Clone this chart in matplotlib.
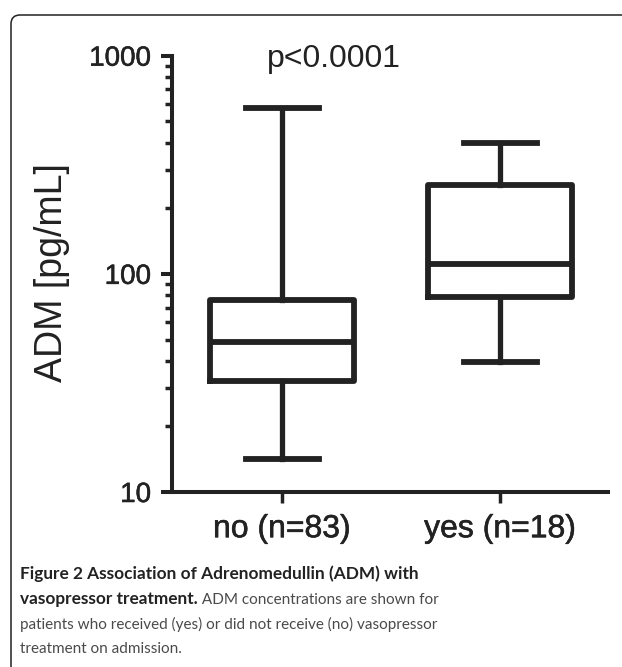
import matplotlib
matplotlib.use('Agg')
import matplotlib.pyplot as plt
import matplotlib.patheffects as pe
from matplotlib.patches import FancyBboxPatch
from matplotlib.ticker import LogLocator, NullFormatter, FixedLocator, FixedFormatter

# box plot summary values (pg/mL)
groups = ['no (n=83)', 'yes (n=18)']
whisker_low = [14.2, 39.4]
q1 = [32.4, 78.7]
median = [48.8, 110.8]
q3 = [76, 256]
whisker_high = [573, 398]
yticks = [10, 100, 1000]
ptext = 'p<0.0001'

ink = '#222222'
W, H = 622, 667
fig = plt.figure(figsize=(W / 100, H / 100), dpi=100)

# rounded frame, open to the right and bottom
frame = FancyBboxPatch((0.11, -1.0), 8.0, 7.52, boxstyle='round,pad=0,rounding_size=0.09',
                       transform=fig.dpi_scale_trans, fill=False, ec=ink, lw=1.1)
fig.patches.append(frame)

ax = fig.add_axes([172 / W, 175 / H, 436 / W, 436.3 / H])

stats = []
for i in range(len(groups)):
    stats.append(dict(whislo=whisker_low[i], q1=q1[i], med=median[i], q3=q3[i],
                      whishi=whisker_high[i], fliers=[], label=groups[i]))

lw = 4.2
ax.bxp(stats, positions=[1, 2], widths=0.66, capwidths=0.335, showfliers=False,
       boxprops=dict(color=ink, lw=lw), medianprops=dict(color=ink, lw=lw),
       whiskerprops=dict(color=ink, lw=3.8), capprops=dict(color=ink, lw=lw))

ax.set_yscale('log')
ax.set_ylim(10, 1000)
ax.set_xlim(0.495, 2.495)
ax.yaxis.set_major_locator(FixedLocator(yticks))
ax.yaxis.set_major_formatter(FixedFormatter([str(v) for v in yticks]))
ax.yaxis.set_minor_locator(LogLocator(base=10, subs=range(2, 10)))
ax.yaxis.set_minor_formatter(NullFormatter())
ax.set_xticks([1, 2])
ax.set_xticklabels(groups)

for s in ['top', 'right']:
    ax.spines[s].set_visible(False)
for s in ['left', 'bottom']:
    ax.spines[s].set_linewidth(2.9)
    ax.spines[s].set_color(ink)

font = 'Liberation Sans'
thick = [pe.withStroke(linewidth=0.4, foreground=ink)]
ax.tick_params(axis='y', which='major', length=8, width=2.9, color=ink, pad=7,
               labelsize=20, labelcolor=ink)
ax.tick_params(axis='y', which='minor', length=5, width=2.5, color=ink)
ax.tick_params(axis='x', length=8, width=2.5, color=ink, pad=8, labelsize=23, labelcolor=ink)
for lab in ax.get_xticklabels() + ax.get_yticklabels():
    lab.set_fontfamily(font)
    lab.set_path_effects(thick)

fig.text(51.5 / W, 1 - 273 / H, 'ADM [pg/mL]', rotation=90, ha='center', va='center',
         fontsize=27, family=font, color=ink)
fig.text(334 / W, 1 - 67 / H, ptext, ha='center', va='baseline', fontsize=23,
         family=font, color=ink)

# caption with bold lead-in
cap_font = 'Lato'
x0 = 20 / W
grey = '#4a4a4a'
fig.text(x0, 1 - 579 / H, 'Figure 2 Association of Adrenomedullin (ADM) with',
         fontsize=12.4, family=cap_font, weight='bold', color=ink, va='baseline')
b = fig.text(x0, 1 - 604 / H, 'vasopressor treatment.', fontsize=12.4, family=cap_font,
             weight='bold', color=ink, va='baseline')
fig.canvas.draw()
ext = b.get_window_extent()
fig.text(ext.x1 / W, 1 - 604 / H, ' ADM concentrations are shown for', fontsize=11,
         family=cap_font, color=grey, va='baseline')
fig.text(x0, 1 - 629 / H, 'patients who received (yes) or did not receive (no) vasopressor',
         fontsize=11, family=cap_font, color=grey, va='baseline')
fig.text(x0, 1 - 653 / H, 'treatment on admission.', fontsize=11, family=cap_font,
         color=grey, va='baseline')

fig.savefig('out.png', dpi=100)
